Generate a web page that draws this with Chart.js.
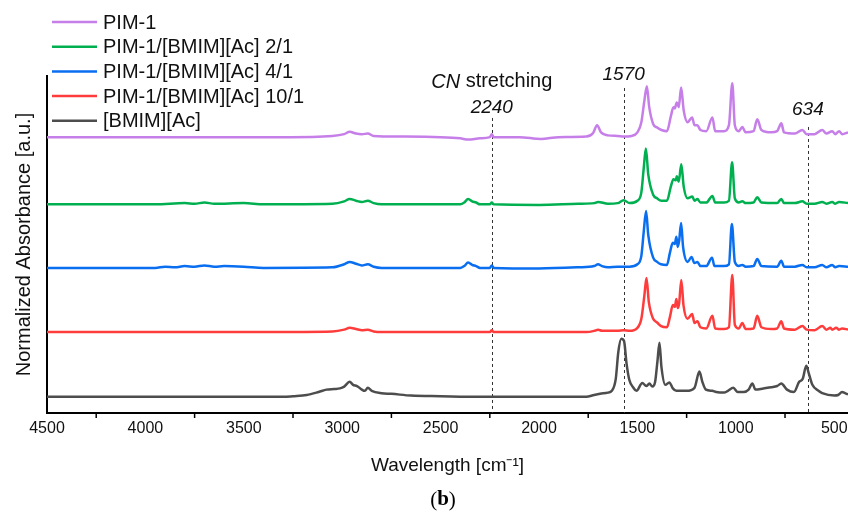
<!DOCTYPE html>
<html>
<head>
<meta charset="utf-8">
<script src="https://cdn.jsdelivr.net/npm/chart.js@4.4.1/dist/chart.umd.min.js"></script>
<style>
  html, body { margin: 0; padding: 0; background: #fff; }
</style>
</head>
<body>
<canvas id="ftir" width="848" height="514"></canvas>
<script>
// series, top to bottom in the legend
const seriesNames = ['PIM-1', 'PIM-1/[BMIM][Ac] 2/1', 'PIM-1/[BMIM][Ac] 4/1', 'PIM-1/[BMIM][Ac] 10/1', '[BMIM][Ac]'];
const seriesColors = ['#c67ee8', '#00b050', '#0a6ef0', '#ff3c3c', '#4d4d4d'];
// vertical stacking offset of each spectrum
const offsets = [4.6, 3.48, 2.42, 1.35, 0.27];

// [wavenumber, normalized absorbance]
const pim1 = [[4500,0],[3300,0],[3050,0.02],[2990,0.05],[2962,0.09],[2930,0.06],[2900,0.05],[2870,0.06],[2840,0.02],[2700,0.01],[2500,0],[2400,-0.02],[2360,-0.04],[2300,-0.02],[2250,0],[2240,0.05],[2230,0],[2100,0],[1990,-0.03],[1900,0],[1760,0.01],[1725,0.07],[1705,0.2],[1685,0.08],[1650,0.03],[1600,0.02],[1570,0.01],[1530,0.02],[1500,0.08],[1480,0.25],[1465,0.6],[1452,0.85],[1440,0.5],[1420,0.22],[1400,0.16],[1378,0.12],[1350,0.1],[1330,0.35],[1317,0.5],[1310,0.48],[1300,0.58],[1290,0.5],[1278,0.83],[1265,0.45],[1245,0.25],[1222,0.33],[1210,0.2],[1196,0.2],[1180,0.12],[1150,0.1],[1119,0.33],[1105,0.1],[1060,0.1],[1035,0.2],[1018,0.9],[1005,0.2],[985,0.1],[967,0.17],[950,0.08],[910,0.1],[891,0.3],[870,0.12],[820,0.08],[790,0.1],[769,0.23],[755,0.08],[700,0.06],[662,0.12],[640,0.05],[600,0.05],[561,0.12],[540,0.06],[510,0.1],[495,0.05],[475,0.1],[460,0.05],[430,0.08]];

const pimIl21 = [[4500,0],[3950,0],[3800,0.02],[3750,0.01],[3700,0.03],[3650,0.01],[3500,0.02],[3400,0],[3050,0.01],[2990,0.05],[2962,0.09],[2930,0.06],[2900,0.04],[2870,0.06],[2840,0.02],[2800,0],[2400,0],[2380,0.03],[2360,0.09],[2340,0.05],[2320,0.03],[2300,0],[2250,0],[2240,0.03],[2230,0],[2000,-0.01],[1800,0.01],[1720,0.02],[1700,0.04],[1650,0.01],[1600,0.02],[1570,0.07],[1540,0.02],[1500,0.06],[1480,0.2],[1468,0.6],[1457,0.93],[1445,0.5],[1420,0.16],[1400,0.1],[1378,0.06],[1350,0.06],[1330,0.3],[1317,0.42],[1305,0.4],[1300,0.47],[1290,0.38],[1277,0.67],[1265,0.3],[1245,0.1],[1221,0.13],[1210,0.06],[1195,0.09],[1180,0.03],[1150,0.03],[1119,0.14],[1105,0.03],[1060,0.03],[1035,0.06],[1019,0.7],[1005,0.1],[985,0.03],[967,0.05],[950,0.02],[910,0.03],[891,0.12],[870,0.03],[790,0.02],[769,0.09],[755,0.02],[700,0.02],[662,0.05],[640,0.01],[600,0.01],[561,0.04],[540,0.01],[510,0.04],[495,0.01],[475,0.04],[430,0.02]];

const pimIl41 = [[4500,0],[3950,0],[3900,0.02],[3850,0.01],[3800,0.03],[3750,0.02],[3700,0.04],[3650,0.02],[3600,0.03],[3500,0.02],[3400,0],[3050,0.01],[2990,0.06],[2962,0.1],[2930,0.07],[2900,0.04],[2870,0.06],[2840,0.02],[2800,0],[2400,0],[2380,0.03],[2360,0.09],[2340,0.05],[2320,0.03],[2300,0],[2250,0],[2240,0.04],[2230,0],[2000,-0.01],[1800,0.01],[1720,0.03],[1700,0.06],[1680,0.03],[1650,0.01],[1600,0.02],[1570,0.02],[1540,0.02],[1500,0.06],[1480,0.2],[1468,0.6],[1456,0.95],[1445,0.55],[1420,0.17],[1400,0.1],[1380,0.06],[1350,0.05],[1335,0.25],[1320,0.42],[1310,0.4],[1302,0.52],[1295,0.35],[1288,0.45],[1278,0.75],[1268,0.35],[1245,0.1],[1225,0.18],[1210,0.08],[1195,0.1],[1180,0.03],[1150,0.03],[1121,0.17],[1108,0.03],[1060,0.03],[1035,0.06],[1020,0.73],[1005,0.1],[985,0.03],[967,0.05],[950,0.02],[910,0.03],[891,0.15],[870,0.03],[790,0.02],[769,0.12],[755,0.02],[700,0.02],[662,0.05],[640,0.01],[600,0.01],[561,0.05],[540,0.01],[510,0.05],[495,0.01],[475,0.03],[430,0.02]];

const pimIl101 = [[4500,0],[3400,0],[3050,0.01],[2990,0.04],[2962,0.07],[2930,0.05],[2900,0.03],[2870,0.04],[2840,0.01],[2800,0],[2250,0],[2240,0.03],[2230,0],[1760,0],[1720,0.02],[1700,0.04],[1680,0.02],[1600,0.02],[1570,0.03],[1540,0.02],[1500,0.07],[1480,0.22],[1465,0.6],[1454,0.9],[1442,0.5],[1420,0.22],[1400,0.16],[1380,0.1],[1350,0.08],[1335,0.25],[1320,0.45],[1310,0.42],[1302,0.55],[1295,0.4],[1288,0.48],[1277,0.87],[1266,0.45],[1245,0.22],[1222,0.3],[1210,0.15],[1195,0.18],[1180,0.08],[1150,0.06],[1119,0.27],[1105,0.06],[1060,0.05],[1035,0.08],[1018,0.95],[1005,0.12],[985,0.06],[967,0.15],[950,0.05],[910,0.06],[891,0.27],[870,0.08],[820,0.05],[790,0.06],[769,0.18],[755,0.06],[700,0.04],[662,0.1],[640,0.04],[600,0.03],[561,0.1],[540,0.04],[520,0.07],[510,0.04],[490,0.07],[475,0.04],[460,0.06],[430,0.04]];

const bmimAc = [[4500,0],[3300,0],[3250,0.01],[3180,0.03],[3120,0.08],[3080,0.12],[3040,0.13],[3012,0.14],[2990,0.17],[2962,0.25],[2945,0.2],[2925,0.18],[2900,0.12],[2885,0.1],[2870,0.15],[2850,0.1],[2800,0.06],[2750,0.05],[2650,0.02],[2500,0.01],[2300,0],[1760,0],[1720,0.03],[1690,0.05],[1650,0.07],[1630,0.1],[1610,0.3],[1597,0.75],[1582,0.97],[1568,0.93],[1555,0.55],[1541,0.28],[1520,0.15],[1505,0.1],[1475,0.23],[1455,0.18],[1439,0.22],[1424,0.17],[1410,0.25],[1398,0.6],[1388,0.9],[1378,0.5],[1358,0.2],[1338,0.24],[1320,0.14],[1302,0.1],[1250,0.1],[1210,0.15],[1185,0.42],[1170,0.25],[1152,0.12],[1120,0.1],[1100,0.08],[1060,0.07],[1040,0.1],[1013,0.15],[990,0.08],[960,0.08],[935,0.12],[916,0.22],[900,0.12],[860,0.14],[820,0.16],[790,0.18],[769,0.22],[740,0.12],[705,0.08],[678,0.25],[660,0.3],[642,0.52],[630,0.4],[611,0.2],[580,0.1],[561,0.06],[500,0.02],[480,0.03],[460,0.08],[445,0.06],[430,0.04]];

const spectra = [pim1, pimIl21, pimIl41, pimIl101, bmimAc];

// x axis: labelled values and the tick marks between them
const tickLabels = [4500, 4000, 3500, 3000, 2500, 2000, 1500, 1000, 500];
const tickMarks = [4250, 3750, 3250, 2750, 2250, 1750, 1250, 750];

// dashed marker lines: wavenumber and top end (y units)
const markerWn = [2240, 1570, 634];
const markerTop = [4.92, 5.42, 4.77];

const FONT = "'Liberation Sans', Arial, sans-serif";
const SERIF = "'Liberation Serif', 'Times New Roman', serif";

const extras = {
  id: 'extras',
  beforeDatasetsDraw(chart) {
    const { ctx, chartArea, scales: { x, y } } = chart;
    ctx.save();
    ctx.strokeStyle = '#333';
    ctx.lineWidth = 1;
    ctx.setLineDash([3, 3]);
    markerWn.forEach((wn, i) => {
      const px = Math.round(x.getPixelForValue(wn)) + 0.5;
      ctx.beginPath();
      ctx.moveTo(px, y.getPixelForValue(markerTop[i]));
      ctx.lineTo(px, chartArea.bottom);
      ctx.stroke();
    });
    ctx.restore();
  },
  afterDraw(chart) {
    const { ctx, chartArea, scales: { x, y } } = chart;
    ctx.save();

    // tick marks between labels
    ctx.strokeStyle = '#000';
    ctx.lineWidth = 1.5;
    tickMarks.forEach(v => {
      const px = x.getPixelForValue(v);
      ctx.beginPath();
      ctx.moveTo(px, chartArea.bottom);
      ctx.lineTo(px, chartArea.bottom + 5);
      ctx.stroke();
    });

    // marker labels
    ctx.fillStyle = '#111';
    ctx.textAlign = 'center';
    ctx.textBaseline = 'middle';
    ctx.font = 'italic 19px ' + FONT;
    const p0 = x.getPixelForValue(markerWn[0]);
    const t0 = y.getPixelForValue(markerTop[0]);
    ctx.fillText('2240', p0, t0 - 10);
    // "CN" italic + " stretching" upright
    ctx.font = 'italic 20px ' + FONT;
    const w1 = ctx.measureText('CN').width;
    ctx.font = '20px ' + FONT;
    const w2 = ctx.measureText(' stretching').width;
    ctx.textAlign = 'left';
    const sx = p0 - (w1 + w2) / 2;
    ctx.font = 'italic 20px ' + FONT;
    ctx.fillText('CN', sx, t0 - 36);
    ctx.font = '20px ' + FONT;
    ctx.fillText(' stretching', sx + w1, t0 - 36);
    ctx.textAlign = 'center';
    ctx.font = 'italic 19px ' + FONT;
    ctx.fillText('1570', x.getPixelForValue(markerWn[1]), y.getPixelForValue(markerTop[1]) - 13);
    ctx.fillText('634', x.getPixelForValue(markerWn[2]), y.getPixelForValue(markerTop[2]) - 17);

    // legend
    ctx.textAlign = 'left';
    ctx.font = '20px ' + FONT;
    chart.data.datasets.forEach((ds, i) => {
      const ly = 22 + i * 24.7;
      ctx.strokeStyle = ds.borderColor;
      ctx.lineWidth = 2.5;
      ctx.beginPath();
      ctx.moveTo(52, ly);
      ctx.lineTo(97, ly);
      ctx.stroke();
      ctx.fillStyle = '#111';
      ctx.fillText(ds.label, 103, ly + 1);
    });

    // panel letter
    ctx.fillStyle = '#000';
    ctx.font = '21px ' + SERIF;
    const a = ctx.measureText('(').width;
    const c = ctx.measureText(')').width;
    ctx.font = 'bold 21px ' + SERIF;
    const b = ctx.measureText('b').width;
    const lx = 443 - (a + b + c) / 2;
    ctx.font = '21px ' + SERIF;
    ctx.fillText('(', lx, 500);
    ctx.fillText(')', lx + a + b, 500);
    ctx.font = 'bold 21px ' + SERIF;
    ctx.fillText('b', lx + a, 500);
    ctx.restore();
  }
};

new Chart(document.getElementById('ftir'), {
  type: 'line',
  data: {
    datasets: spectra.map((pts, i) => ({
      label: seriesNames[i],
      data: pts.map(p => ({ x: p[0], y: p[1] + offsets[i] })),
      borderColor: seriesColors[i],
      backgroundColor: seriesColors[i],
      borderWidth: 2.5,
      pointRadius: 0,
      cubicInterpolationMode: 'monotone',
      fill: false
    }))
  },
  options: {
    responsive: false,
    animation: false,
    layout: { padding: { top: 76, right: 0, bottom: 0, left: 0 } },
    plugins: { legend: { display: false }, tooltip: { enabled: false } },
    scales: {
      x: {
        type: 'linear',
        reverse: true,
        min: 430,
        max: 4500,
        afterBuildTicks: s => { s.ticks = tickLabels.map(v => ({ value: v })); },
        afterFit: s => { s.height = 101; s.paddingLeft = 0; s.paddingRight = 0; },
        grid: { display: false, drawTicks: false },
        border: { display: true, color: '#000', width: 2 },
        ticks: { color: '#111', padding: 6, font: { family: FONT, size: 16 }, callback: v => v },
        title: { display: true, text: 'Wavelength [cm⁻¹]', color: '#111', font: { family: FONT, size: 19 }, padding: { top: 0, bottom: 37 } }
      },
      y: {
        min: 0,
        max: 5.62,
        afterFit: s => { s.width = 47; },
        grid: { display: false, drawTicks: false },
        border: { display: true, color: '#000', width: 2 },
        ticks: { display: false },
        title: { display: true, text: 'Normalized Absorbance [a.u.]', color: '#111', font: { family: FONT, size: 20 }, padding: { top: 12, bottom: 0 } }
      }
    }
  },
  plugins: [extras]
});
</script>
</body>
</html>
